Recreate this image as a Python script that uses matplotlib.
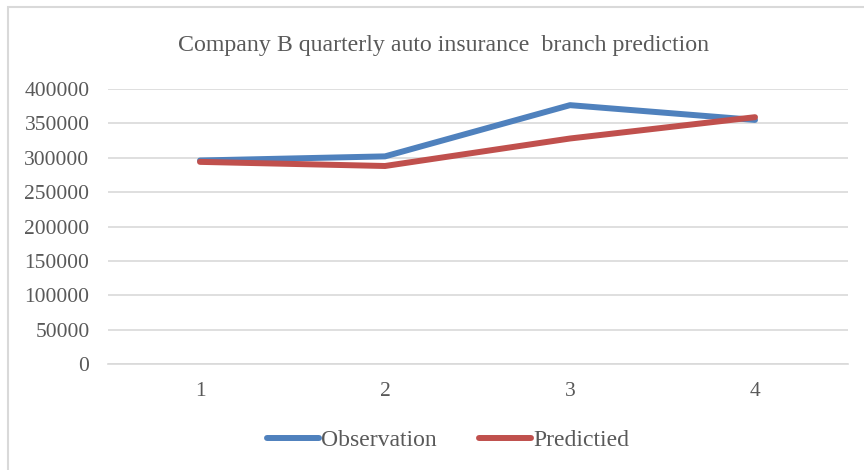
import matplotlib
matplotlib.use("Agg")
import matplotlib.pyplot as plt
from matplotlib.patches import Rectangle

quarters = ["1", "2", "3", "4"]
observation = [296000, 302000, 376500, 355000]
predicted = [294000, 288000, 328000, 359000]

title = "Company B quarterly auto insurance  branch prediction"
yticks = list(range(0, 400001, 50000))

BLUE = "#4F81BD"
RED = "#C0504D"
TEXT = "#595959"
GRID = "#D9D9D9"

plt.rcParams["font.family"] = ["Liberation Serif", "DejaVu Serif"]

W, H = 864, 470
fig = plt.figure(figsize=(W / 100, H / 100), dpi=100)
ax = fig.add_axes([107.5 / W, 1 - 364 / H, (847.5 - 107.5) / W, (364 - 89) / H])

x = list(range(len(quarters)))
ax.plot(x, observation, color=BLUE, linewidth=4.3, solid_capstyle="round",
        solid_joinstyle="round", label="Observation")
ax.plot(x, predicted, color=RED, linewidth=4.3, solid_capstyle="round",
        solid_joinstyle="round", label="Predictied")

ax.set_xlim(-0.5, len(quarters) - 0.5)
ax.set_ylim(0, 400000)
ax.set_xticks(x)
ax.set_xticklabels(quarters)
ax.set_yticks(yticks)
ax.set_yticklabels([str(v) for v in yticks])
ax.tick_params(axis="both", length=0, labelsize=15.5, colors=TEXT)
ax.tick_params(axis="y", pad=13)
ax.tick_params(axis="x", pad=13)
ax.grid(axis="y", color=GRID, linewidth=1.2)
ax.set_axisbelow(True)
for side in ["top", "right", "left"]:
    ax.spines[side].set_visible(False)
ax.spines["bottom"].set_color(GRID)
ax.spines["bottom"].set_linewidth(1.2)

fig.text(444 / W, 1 - 46 / H, title, ha="center", va="center",
         fontsize=17.2, color=TEXT)

fig.legend(loc="center", bbox_to_anchor=(448 / W, 1 - 440 / H), ncol=2,
           frameon=False, fontsize=17, labelcolor=TEXT, handlelength=2.2,
           handletextpad=0.1, columnspacing=1.8)

fig.patches.append(Rectangle((8 / W, -0.1), 1.2, 1 - 7 / H + 0.1,
                             transform=fig.transFigure, fill=False,
                             edgecolor="#D9D9D9", linewidth=1.5))

fig.savefig("out.png", dpi=100)
